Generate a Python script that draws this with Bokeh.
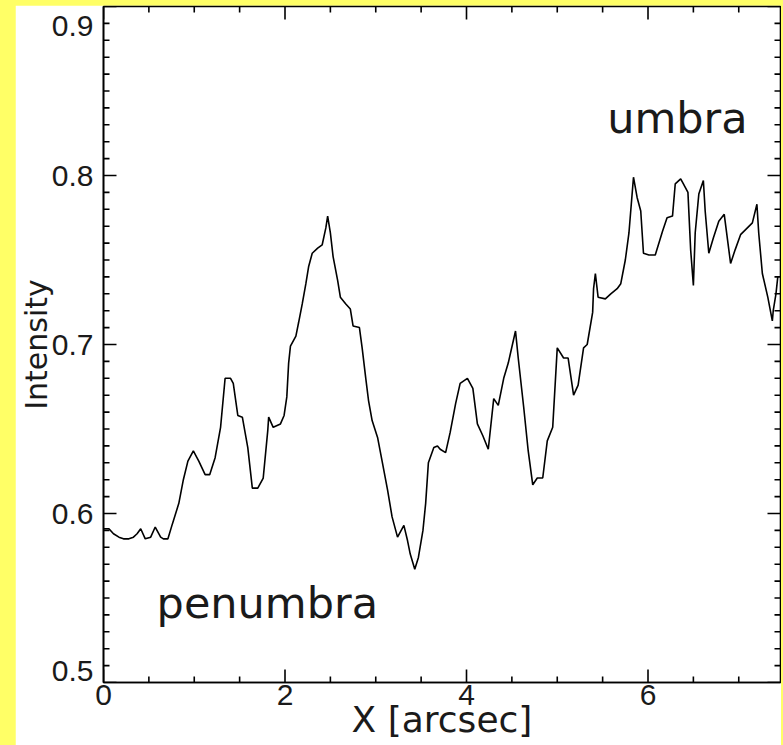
import math
from bokeh.plotting import figure
from bokeh.models import (FixedTicker, Range1d, Label, GlobalInlineStyleSheet)
from bokeh.embed import file_html
from bokeh.resources import INLINE

# ---- data ----
x_arcsec = [0.00, 0.06, 0.11, 0.17, 0.22, 0.28, 0.33, 0.37, 0.41, 0.46, 0.52, 0.57, 0.63, 0.66,
            0.71, 0.76, 0.83, 0.88, 0.93, 0.99, 1.05, 1.12, 1.17, 1.23, 1.29, 1.34, 1.40, 1.43,
            1.48, 1.53, 1.59, 1.64, 1.70, 1.76, 1.81, 1.82, 1.87, 1.95, 1.99, 2.02, 2.04, 2.06,
            2.12, 2.15, 2.19, 2.23, 2.26, 2.30, 2.36, 2.41, 2.45, 2.47, 2.50, 2.53, 2.58, 2.61,
            2.67, 2.72, 2.75, 2.82, 2.85, 2.89, 2.92, 2.96, 3.02, 3.07, 3.13, 3.18, 3.24, 3.31,
            3.35, 3.38, 3.43, 3.47, 3.52, 3.55, 3.58, 3.64, 3.68, 3.71, 3.77, 3.82, 3.88, 3.93,
            4.01, 4.07, 4.12, 4.18, 4.24, 4.30, 4.35, 4.41, 4.46, 4.54, 4.57, 4.63, 4.68, 4.73,
            4.78, 4.84, 4.89, 4.95, 5.00, 5.07, 5.12, 5.18, 5.23, 5.29, 5.33, 5.39, 5.40, 5.42,
            5.45, 5.53, 5.59, 5.66, 5.70, 5.75, 5.79, 5.84, 5.88, 5.92, 5.95, 6.01, 6.08, 6.16,
            6.21, 6.27, 6.30, 6.36, 6.39, 6.44, 6.47, 6.50, 6.52, 6.56, 6.61, 6.63, 6.67, 6.72,
            6.78, 6.84, 6.91, 6.96, 7.02, 7.15, 7.20, 7.22, 7.26, 7.32, 7.37, 7.38, 7.41, 7.43]

intensity = [0.591, 0.591, 0.588, 0.586, 0.585, 0.585, 0.586, 0.588, 0.591, 0.585, 0.586, 0.592,
             0.586, 0.585, 0.585, 0.594, 0.606, 0.620, 0.631, 0.637, 0.631, 0.623, 0.623, 0.633,
             0.651, 0.680, 0.680, 0.677, 0.658, 0.657, 0.639, 0.615, 0.615, 0.621, 0.649, 0.657,
             0.651, 0.653, 0.658, 0.669, 0.689, 0.699, 0.705, 0.713, 0.724, 0.736, 0.746, 0.754,
             0.757, 0.759, 0.769, 0.776, 0.766, 0.752, 0.738, 0.728, 0.724, 0.721, 0.711, 0.710,
             0.698, 0.680, 0.667, 0.655, 0.645, 0.631, 0.614, 0.598, 0.586, 0.593, 0.584, 0.576,
             0.567, 0.574, 0.590, 0.606, 0.630, 0.639, 0.640, 0.638, 0.636, 0.648, 0.665, 0.677,
             0.680, 0.674, 0.653, 0.646, 0.638, 0.668, 0.664, 0.680, 0.689, 0.708, 0.692, 0.663,
             0.637, 0.617, 0.621, 0.621, 0.643, 0.651, 0.698, 0.692, 0.692, 0.670, 0.676, 0.698,
             0.700, 0.719, 0.733, 0.742, 0.728, 0.727, 0.730, 0.733, 0.736, 0.750, 0.766, 0.799,
             0.787, 0.779, 0.754, 0.753, 0.753, 0.767, 0.775, 0.776, 0.795, 0.798, 0.795, 0.790,
             0.756, 0.735, 0.766, 0.789, 0.797, 0.779, 0.754, 0.763, 0.773, 0.777, 0.748, 0.756,
             0.765, 0.772, 0.783, 0.766, 0.742, 0.728, 0.714, 0.720, 0.730, 0.740]

x_ticks = [0, 2, 4, 6]
x_minor = [0.5, 1.0, 1.5, 2.5, 3.0, 3.5, 4.5, 5.0, 5.5, 6.5, 7.0]
y_ticks = [0.5, 0.6, 0.7, 0.8, 0.9]
y_minor = [round(0.5 + 0.01 * i, 2) for i in range(41) if i % 10 != 0]
labels = [("penumbra", 0.585, 0.547), ("umbra", 5.55, 0.834)]

X_MIN, X_MAX = 0.0, 7.46
Y_MIN, Y_MAX = 0.5, 0.9

YELLOW = "#ffff66"
INK = "#1a1a1a"
TICK_FONT = "Liberation Sans"
TEXT_FONT = "DejaVu Sans"

p = figure(width=766, height=745, x_range=Range1d(X_MIN, X_MAX), y_range=Range1d(Y_MIN, Y_MAX),
           output_backend="svg", toolbar_location=None,
           x_axis_label="X [arcsec]", y_axis_label="Intensity",
           min_border_left=88, min_border_right=1, min_border_top=1, min_border_bottom=68)

p.background_fill_color = "white"
p.border_fill_color = "white"
p.outline_line_color = "black"
p.outline_line_width = 1.6
p.xgrid.visible = False
p.ygrid.visible = False

p.stylesheets = [GlobalInlineStyleSheet(css=(
    "html, body { background: %s; margin: 0; overflow: hidden; }"
    "body { padding: 5px 0 0 15px; }" % YELLOW))]


def style_axis(ax):
    ax.axis_line_color = "black"
    ax.axis_line_width = 1.6
    ax.major_tick_in = 0
    ax.major_tick_out = 0
    ax.minor_tick_in = 0
    ax.minor_tick_out = 0
    ax.major_label_text_font = TICK_FONT
    ax.major_label_text_font_size = "30px"
    ax.major_label_text_color = INK
    ax.axis_label_text_font = TEXT_FONT
    ax.axis_label_text_font_style = "normal"
    ax.axis_label_text_color = INK


xa = p.xaxis[0]
xa.ticker = FixedTicker(ticks=x_ticks, minor_ticks=x_minor)
style_axis(xa)
xa.major_label_standoff = 2
xa.axis_label_text_font_size = "36px"
xa.axis_label_standoff = -9

ya = p.yaxis[0]
ya.ticker = FixedTicker(ticks=y_ticks, minor_ticks=y_minor)
style_axis(ya)
ya.major_label_standoff = 10
ya.axis_label_text_font_size = "30px"
ya.axis_label_standoff = -5
# end labels sit inside the frame, as in the reference
ya.major_label_text_line_height = 0.1
ya.major_label_overrides = {0.9: "\n0.9", 0.5: "0.5" + "\n" * 7}

# inward-pointing ticks on all four sides of the frame (clipped to the frame)
TICK = dict(marker="dash", line_color="black", line_width=1.6)
MAJ, MIN = 26, 12
for ticks, size in ((x_ticks, MAJ), (x_minor, MIN)):
    p.scatter(ticks, [Y_MIN] * len(ticks), size=size, angle=math.pi / 2, **TICK)
    p.scatter(ticks, [Y_MAX] * len(ticks), size=size, angle=math.pi / 2, **TICK)
for ticks, size in ((y_ticks, MAJ), (y_minor, MIN)):
    p.scatter([X_MIN] * len(ticks), ticks, size=size, **TICK)
    p.scatter([X_MAX] * len(ticks), ticks, size=size, **TICK)

p.line(x_arcsec, intensity, line_color="black", line_width=1.6)

for txt, lx, ly in labels:
    p.add_layout(Label(x=lx, y=ly, text=txt, text_font=TEXT_FONT, text_font_size="43px",
                       text_color=INK, text_baseline="alphabetic"))

open("out.html", "w").write(file_html(p, INLINE))
